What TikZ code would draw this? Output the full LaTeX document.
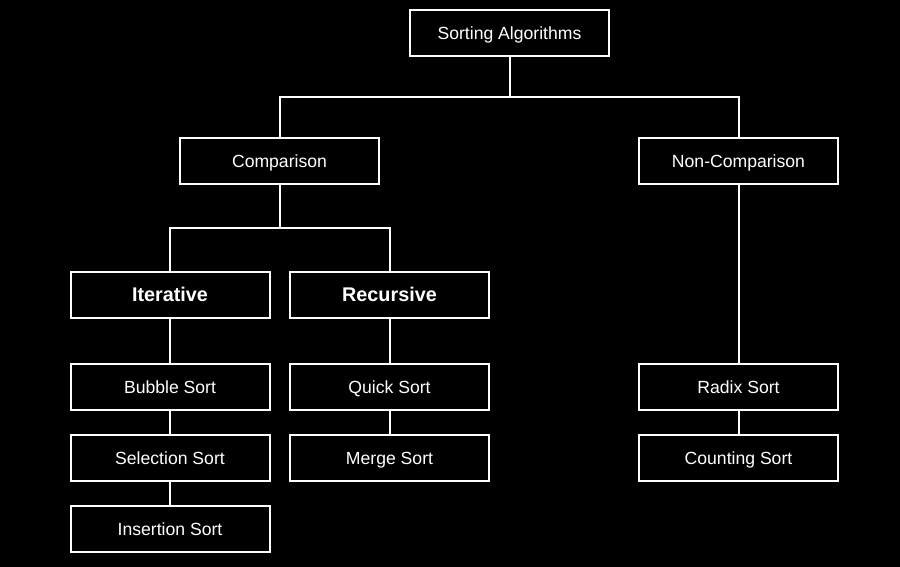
\documentclass[tikz,border=0pt]{standalone}
\usepackage{fontspec}
\setmainfont{Liberation Sans}
\begin{document}
\begin{tikzpicture}[x=1pt,y=-1pt,
  box/.style={draw=white,line width=2pt,fill=black,text=white,minimum width=199pt,minimum height=46pt,inner sep=0pt,text height=12.2pt,text depth=0pt,font=\fontsize{17.6}{20}\selectfont},
  boldbox/.style={box,text height=13.8pt,font=\fontsize{19.8}{22}\selectfont\bfseries},
  link/.style={draw=white,line width=2pt}]
\fill[black] (0,0) rectangle (900,567);
\useasboundingbox (0,0) rectangle (900,567);
\node[box] (root) at (509.5,33.5) {Sorting Algorithms};
\node[box] (comp) at (279.5,161) {Comparison};
\node[box] (non) at (738.5,161) {Non-Comparison};
\node[boldbox] (iter) at (170,294.5) {Iterative};
\node[boldbox] (rec) at (389.5,294.5) {Recursive};
\node[box] (bub) at (170,387) {Bubble Sort};
\node[box] (sel) at (170,458) {Selection Sort};
\node[box] (ins) at (170,529) {Insertion Sort};
\node[box] (quick) at (389.5,387) {Quick Sort};
\node[box] (merge) at (389.5,458) {Merge Sort};
\node[box] (radix) at (738.5,387) {Radix Sort};
\node[box] (count) at (738.5,458) {Counting Sort};
\coordinate (j1) at (509.5,97);
\coordinate (j2) at (279.5,228);
\draw[link] (root.south) -- (j1) -| (comp.north);
\draw[link] (j1) -| (non.north);
\draw[link] (comp.south) -- (j2) -| (iter.north);
\draw[link] (j2) -| (rec.north);
\draw[link] (iter) -- (bub);
\draw[link] (bub) -- (sel);
\draw[link] (sel) -- (ins);
\draw[link] (rec) -- (quick);
\draw[link] (quick) -- (merge);
\draw[link] (non) -- (radix);
\draw[link] (radix) -- (count);
\end{tikzpicture}
\end{document}
